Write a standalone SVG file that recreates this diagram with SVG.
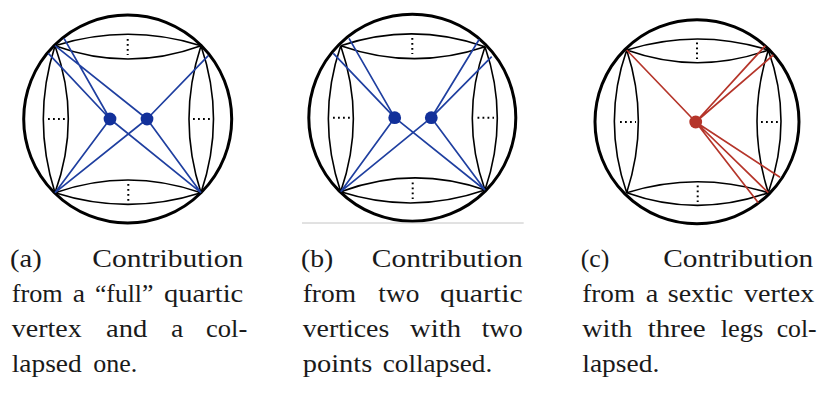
<svg xmlns="http://www.w3.org/2000/svg" width="825" height="394" viewBox="0 0 825 394">
<style>
.c{fill:none;stroke:#000;stroke-width:3}
.l{fill:none;stroke:#000;stroke-width:1.6}
.d{fill:none;stroke:#000;stroke-width:2;stroke-dasharray:1.8 3.2}
.b{fill:none;stroke:#1f3fa0;stroke-width:1.7}
.r{fill:none;stroke:#b5352a;stroke-width:1.7}
text{font-family:"Liberation Serif","Times New Roman",serif;font-size:26px;fill:#1a1a1a}
</style>
<rect width="825" height="394" fill="#fff"/>
<g id="diagram-a">
<circle class="c" cx="127.7" cy="119" r="104"/>
<path class="l" d="M55 45.7Q128 22.9 201 45.7M55 45.7Q128 72.3 201 45.7M55 192.7Q128 167.3 201 192.7M55 192.7Q128 216 201 192.7M55 45.7Q31.6 119 55 192.7M55 45.7Q81.6 119 55 192.7M201 45.7Q177 119 201 192.7M201 45.7Q226 119 201 192.7"/>
<path class="d" d="M127.7 39V55M48 119H65M193 119H210M128.3 184V201"/>
<g id="connectors-a"><path class="b" d="M110 119L48.3 53.3M110 119L64 38.3M110 119L201 192.7M110 119L55 192.7M147 119L55 45.7M147 119L208.3 55.7M147 119L201 192.7M147 119L55 192.7"/></g>
<g id="node-a1"><circle cx="110" cy="119" r="6.400" fill="#12309a"/></g>
<g id="node-a2"><circle cx="147" cy="119" r="6.400" fill="#12309a"/></g>
</g>
<g id="diagram-b">
<circle class="c" cx="412.3" cy="117.7" r="103.5"/>
<path class="l" d="M340.7 45.7Q413 21.5 485 46.7M340.7 45.7Q413 71 485 46.7M340.7 191.7Q413 165 485 190M340.7 191.7Q413 215 485 190M340.7 45.7Q316 119 340.7 191.7M340.7 45.7Q366 119 340.7 191.7M485 46.7Q459.6 118 485 190M485 46.7Q509.6 118 485 190"/>
<path class="d" d="M412.3 38V54M333 117.7H350M477.500 117.700H494M412.700 182.500V199"/>
<g id="connectors-b"><path class="b" d="M394.700 117.700L333.300 53.300M394.700 117.700L349 38.300M394.700 117.700L485 190M394.700 117.700L340.700 191.700M431.300 117.700L479.300 39.300M431.300 117.700L491.700 56.700M431.300 117.700L485 190M431.300 117.700L340.700 191.700"/></g>
<g id="node-b1"><circle cx="394.700" cy="117.700" r="6.400" fill="#12309a"/></g>
<g id="node-b2"><circle cx="431.300" cy="117.700" r="6.400" fill="#12309a"/></g>
</g>
<path d="M302 223H523.700" stroke="#c4c4c4" stroke-width="1" fill="none"/>
<g id="diagram-c">
<circle class="c" cx="697" cy="121.700" r="102"/>
<path class="l" d="M626.700 50Q697.500 28 768.300 50M626.700 50Q697.500 75.400 768.300 50M626.700 192.700Q697.500 170.700 768.300 192.700M626.700 192.700Q697.500 218 768.300 192.700M626.700 50Q602 121 626.700 192.700M626.700 50Q650 121 626.700 192.700M768.300 50Q745.700 121 768.300 192.700M768.300 50Q793.700 121 768.300 192.700"/>
<path class="d" d="M697 42.500V59M620 122H636M761 122H778M697.700 185.500V202"/>
<g id="connectors-c"><path class="r" d="M695.700 122L626.700 50M695.700 122L765.300 45.700M695.700 122L773.300 55M695.700 122L780 177.300M695.700 122L768.300 192.700M695.700 122L758.300 202.700"/></g>
<g id="node-c"><circle cx="695.700" cy="122" r="6.400" fill="#b5352a"/></g>
</g>
<g id="caption-a" lengthAdjust="spacingAndGlyphs">
<text x="10" y="267" textLength="31.700" lengthAdjust="spacingAndGlyphs">(a)</text><text x="92.300" y="267" textLength="151" lengthAdjust="spacingAndGlyphs">Contribution</text>
<text x="11.700" y="302" textLength="51" lengthAdjust="spacingAndGlyphs">from</text><text x="72.700" y="302" textLength="12.300" lengthAdjust="spacingAndGlyphs">a</text><text x="95" y="302" textLength="58.300" lengthAdjust="spacingAndGlyphs">“full”</text><text x="164" y="302" textLength="79.300" lengthAdjust="spacingAndGlyphs">quartic</text>
<text x="11.700" y="337" textLength="70" lengthAdjust="spacingAndGlyphs">vertex</text><text x="106" y="337" textLength="41.300" lengthAdjust="spacingAndGlyphs">and</text><text x="171" y="337" textLength="12.300" lengthAdjust="spacingAndGlyphs">a</text><text x="206" y="337" textLength="41.300" lengthAdjust="spacingAndGlyphs">col-</text>
<text x="11.700" y="372" textLength="70" lengthAdjust="spacingAndGlyphs">lapsed</text><text x="93.300" y="372" textLength="44" lengthAdjust="spacingAndGlyphs">one.</text>
</g>
<g id="caption-b">
<text x="301" y="267" textLength="32.300" lengthAdjust="spacingAndGlyphs">(b)</text><text x="371.700" y="267" textLength="151" lengthAdjust="spacingAndGlyphs">Contribution</text>
<text x="302.700" y="302" textLength="53.300" lengthAdjust="spacingAndGlyphs">from</text><text x="378.300" y="302" textLength="41" lengthAdjust="spacingAndGlyphs">two</text><text x="440" y="302" textLength="82.700" lengthAdjust="spacingAndGlyphs">quartic</text>
<text x="302.700" y="337" textLength="86.600" lengthAdjust="spacingAndGlyphs">vertices</text><text x="410" y="337" textLength="51" lengthAdjust="spacingAndGlyphs">with</text><text x="481.700" y="337" textLength="41" lengthAdjust="spacingAndGlyphs">two</text>
<text x="302.700" y="372" textLength="69.600" lengthAdjust="spacingAndGlyphs">points</text><text x="382.700" y="372" textLength="109.600" lengthAdjust="spacingAndGlyphs">collapsed.</text>
</g>
<g id="caption-c">
<text x="580.700" y="267" textLength="28.600" lengthAdjust="spacingAndGlyphs">(c)</text><text x="663.300" y="267" textLength="150" lengthAdjust="spacingAndGlyphs">Contribution</text>
<text x="582.300" y="302" textLength="52.700" lengthAdjust="spacingAndGlyphs">from</text><text x="645.700" y="302" textLength="12.600" lengthAdjust="spacingAndGlyphs">a</text><text x="667.700" y="302" textLength="65.600" lengthAdjust="spacingAndGlyphs">sextic</text><text x="744" y="302" textLength="70.300" lengthAdjust="spacingAndGlyphs">vertex</text>
<text x="582.300" y="337" textLength="50" lengthAdjust="spacingAndGlyphs">with</text><text x="647.700" y="337" textLength="58" lengthAdjust="spacingAndGlyphs">three</text><text x="720.700" y="337" textLength="42.600" lengthAdjust="spacingAndGlyphs">legs</text><text x="776.700" y="337" textLength="40" lengthAdjust="spacingAndGlyphs">col-</text>
<text x="582.300" y="372" textLength="77" lengthAdjust="spacingAndGlyphs">lapsed.</text>
</g>
</svg>
